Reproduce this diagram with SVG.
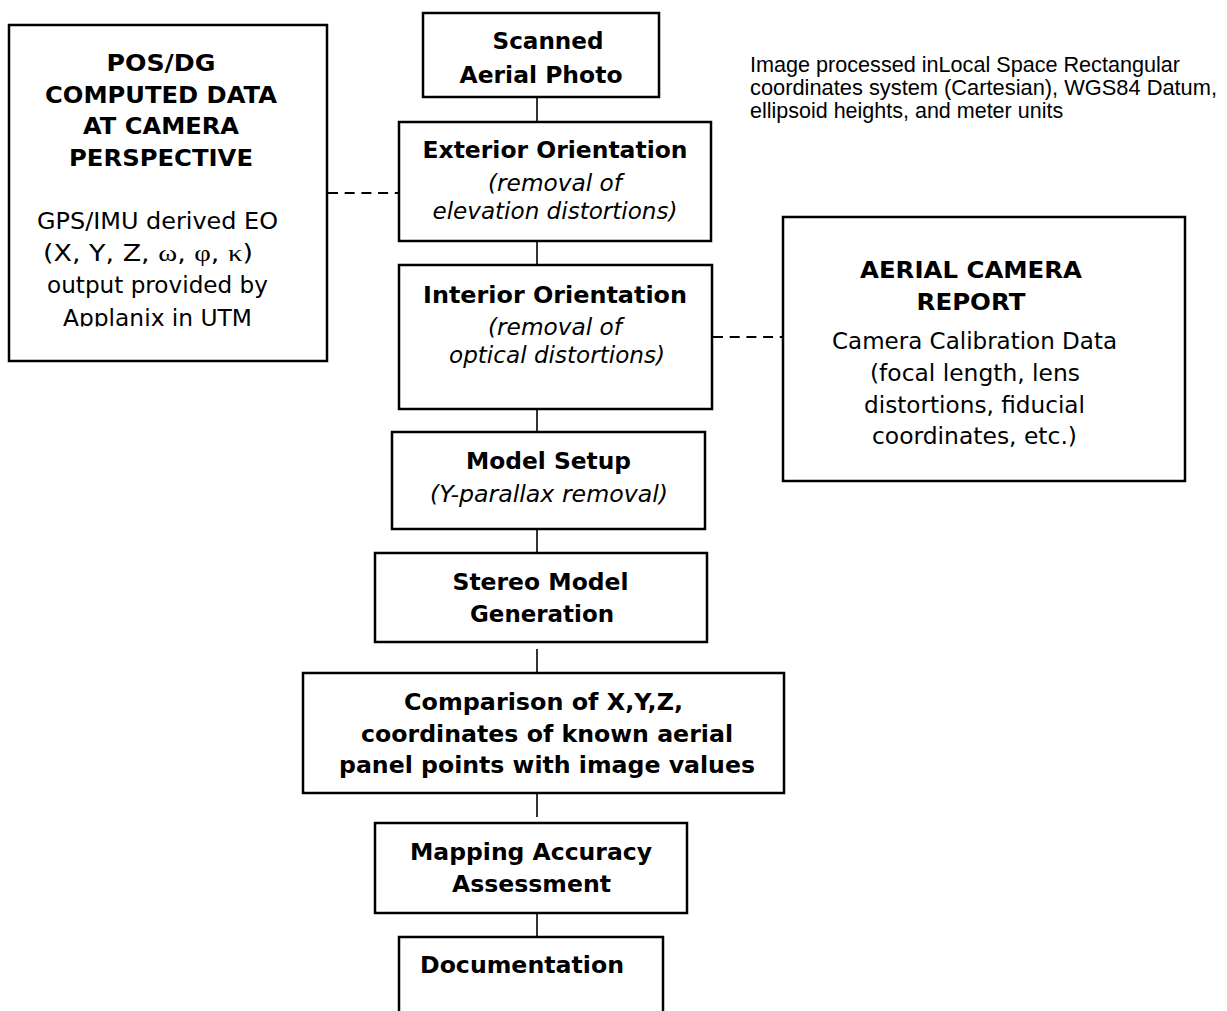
<svg xmlns="http://www.w3.org/2000/svg" width="1227" height="1011" viewBox="0 0 1227 1011">
<style>
.box{fill:#fff;stroke:#000;stroke-width:2.5}
.b{font-family:"DejaVu Sans",Verdana,sans-serif;font-weight:bold;font-size:22.5px;text-anchor:middle;fill:#000}
.r{font-family:"DejaVu Sans",Verdana,sans-serif;font-size:22.5px;text-anchor:middle;fill:#000}
.i{font-family:"DejaVu Sans",Verdana,sans-serif;font-style:italic;font-size:22.5px;text-anchor:middle;fill:#000}
.g{font-family:"Liberation Serif","Times New Roman",serif;font-size:24px}
.note{font-family:"Liberation Sans",Arial,sans-serif;font-size:21.5px;fill:#000}
.conn{stroke:#000;stroke-width:1.6;fill:none}
.dash{stroke:#000;stroke-width:2.2;stroke-dasharray:10 6.7;fill:none}
</style>
<defs>
<clipPath id="clipLeft"><rect x="0" y="0" width="340" height="326.5"/></clipPath>
</defs>
<rect width="1227" height="1011" fill="#fff"/>

<g id="connectors">
<line class="conn" x1="537" y1="97" x2="537" y2="122"/>
<line class="conn" x1="537" y1="241" x2="537" y2="265"/>
<line class="conn" x1="537" y1="409" x2="537" y2="432"/>
<line class="conn" x1="537" y1="529" x2="537" y2="553"/>
<line class="conn" x1="537" y1="649" x2="537" y2="673"/>
<line class="conn" x1="537" y1="793" x2="537" y2="817"/>
<line class="conn" x1="537" y1="913" x2="537" y2="937"/>
<line class="dash" x1="328" y1="193" x2="399" y2="193"/>
<line class="dash" x1="713" y1="337" x2="786" y2="337"/>
</g>

<g id="pos-dg">
<rect class="box" x="9" y="25" width="318" height="336"/>
<text class="b" x="161" y="71" textLength="109" lengthAdjust="spacingAndGlyphs">POS/DG</text>
<text class="b" x="161" y="103" textLength="232" lengthAdjust="spacingAndGlyphs">COMPUTED DATA</text>
<text class="b" x="161" y="134" textLength="156" lengthAdjust="spacingAndGlyphs">AT CAMERA</text>
<text class="b" x="161" y="166" textLength="184" lengthAdjust="spacingAndGlyphs">PERSPECTIVE</text>
<g clip-path="url(#clipLeft)">
<text class="r" x="157.5" y="229" textLength="241" lengthAdjust="spacingAndGlyphs">GPS/IMU derived EO</text>
<text class="r" x="148" y="261" textLength="210" lengthAdjust="spacingAndGlyphs">(X, Y, Z, <tspan class="g">ω</tspan>, <tspan class="g">φ</tspan>, <tspan class="g">κ</tspan>)</text>
<text class="r" x="157.5" y="293" textLength="221" lengthAdjust="spacingAndGlyphs">output provided by</text>
<text class="r" x="157.5" y="326" textLength="189" lengthAdjust="spacingAndGlyphs">Applanix in UTM</text>
</g>
</g>

<g id="scanned">
<rect class="box" x="423" y="13" width="236" height="84"/>
<text class="b" x="548" y="49" textLength="111" lengthAdjust="spacingAndGlyphs">Scanned</text>
<text class="b" x="541" y="83" textLength="163" lengthAdjust="spacingAndGlyphs">Aerial Photo</text>
</g>

<g id="note">
<text class="note" x="750" y="72" textLength="430" lengthAdjust="spacingAndGlyphs">Image processed inLocal Space Rectangular</text>
<text class="note" x="750" y="95" textLength="467" lengthAdjust="spacingAndGlyphs">coordinates system (Cartesian), WGS84 Datum,</text>
<text class="note" x="750" y="118">ellipsoid heights, and meter units</text>
</g>

<g id="exterior">
<rect class="box" x="399" y="122" width="312" height="119"/>
<text class="b" x="555" y="158" textLength="265" lengthAdjust="spacingAndGlyphs">Exterior Orientation</text>
<text class="i" x="555" y="191" textLength="134" lengthAdjust="spacingAndGlyphs">(removal of</text>
<text class="i" x="555" y="219" textLength="245" lengthAdjust="spacingAndGlyphs">elevation distortions)</text>
</g>

<g id="interior">
<rect class="box" x="399" y="265" width="313" height="144"/>
<text class="b" x="555" y="303" textLength="264" lengthAdjust="spacingAndGlyphs">Interior Orientation</text>
<text class="i" x="555" y="335" textLength="134" lengthAdjust="spacingAndGlyphs">(removal of</text>
<text class="i" x="557" y="363" textLength="216" lengthAdjust="spacingAndGlyphs">optical distortions)</text>
</g>

<g id="camera-report">
<rect class="box" x="783" y="217" width="402" height="264"/>
<text class="b" x="971" y="278" textLength="222" lengthAdjust="spacingAndGlyphs">AERIAL CAMERA</text>
<text class="b" x="971" y="310" textLength="109" lengthAdjust="spacingAndGlyphs">REPORT</text>
<text class="r" x="974.5" y="349" textLength="285" lengthAdjust="spacingAndGlyphs">Camera Calibration Data</text>
<text class="r" x="975" y="381" textLength="210" lengthAdjust="spacingAndGlyphs">(focal length, lens</text>
<text class="r" x="974.5" y="413" textLength="221" lengthAdjust="spacingAndGlyphs">distortions, fiducial</text>
<text class="r" x="974.5" y="444" textLength="205" lengthAdjust="spacingAndGlyphs">coordinates, etc.)</text>
</g>

<g id="model-setup">
<rect class="box" x="392" y="432" width="313" height="97"/>
<text class="b" x="548.5" y="469" textLength="165" lengthAdjust="spacingAndGlyphs">Model Setup</text>
<text class="i" x="549" y="502" textLength="238" lengthAdjust="spacingAndGlyphs">(Y-parallax removal)</text>
</g>

<g id="stereo">
<rect class="box" x="375" y="553" width="332" height="89"/>
<text class="b" x="540.5" y="590" textLength="176" lengthAdjust="spacingAndGlyphs">Stereo Model</text>
<text class="b" x="542" y="622" textLength="144" lengthAdjust="spacingAndGlyphs">Generation</text>
</g>

<g id="comparison">
<rect class="box" x="303" y="673" width="481" height="120"/>
<text class="b" x="543.5" y="710" textLength="279" lengthAdjust="spacingAndGlyphs">Comparison of X,Y,Z,</text>
<text class="b" x="547" y="742" textLength="372" lengthAdjust="spacingAndGlyphs">coordinates of known aerial</text>
<text class="b" x="547" y="773" textLength="416" lengthAdjust="spacingAndGlyphs">panel points with image values</text>
</g>

<g id="mapping">
<rect class="box" x="375" y="823" width="312" height="90"/>
<text class="b" x="531" y="860" textLength="242" lengthAdjust="spacingAndGlyphs">Mapping Accuracy</text>
<text class="b" x="531.5" y="892" textLength="159" lengthAdjust="spacingAndGlyphs">Assessment</text>
</g>

<g id="documentation">
<path class="box" d="M399,1015 V937 H663 V1015"/>
<text class="b" x="522" y="973" textLength="204" lengthAdjust="spacingAndGlyphs">Documentation</text>
</g>
</svg>
